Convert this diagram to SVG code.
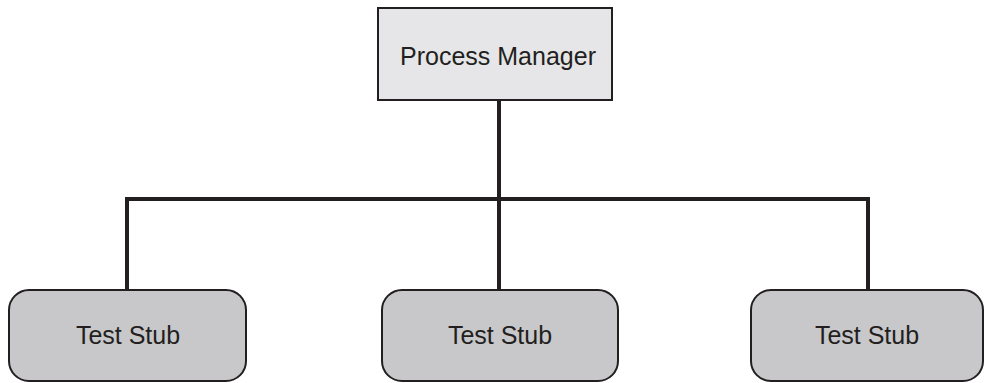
<svg xmlns="http://www.w3.org/2000/svg" width="985" height="383" viewBox="0 0 985 383">
<style>
.lbl{font-family:"Liberation Sans",Arial,sans-serif;font-size:25px;fill:#231f20;text-anchor:middle}
.stub{fill:#c8c8ca;stroke:#231f20;stroke-width:2}
.mgr{fill:#e6e6e8;stroke:#231f20;stroke-width:2}
.conn{fill:none;stroke:#231f20;stroke-width:4}
</style>
<g id="connectors">
<path class="conn" d="M499 100 V290"/>
<path class="conn" d="M127 291 V199 H868 V291"/>
</g>
<g id="manager">
<rect class="mgr" x="378" y="8" width="234" height="92"/>
<text class="lbl" x="498" y="65">Process Manager</text>
</g>
<g id="stub1">
<rect class="stub" x="9" y="290" width="237" height="91" rx="20"/>
<text class="lbl" x="128" y="344">Test Stub</text>
</g>
<g id="stub2">
<rect class="stub" x="382" y="290" width="236" height="91" rx="20"/>
<text class="lbl" x="500" y="344">Test Stub</text>
</g>
<g id="stub3">
<rect class="stub" x="751" y="290" width="232" height="91" rx="20"/>
<text class="lbl" x="867" y="344">Test Stub</text>
</g>
</svg>
